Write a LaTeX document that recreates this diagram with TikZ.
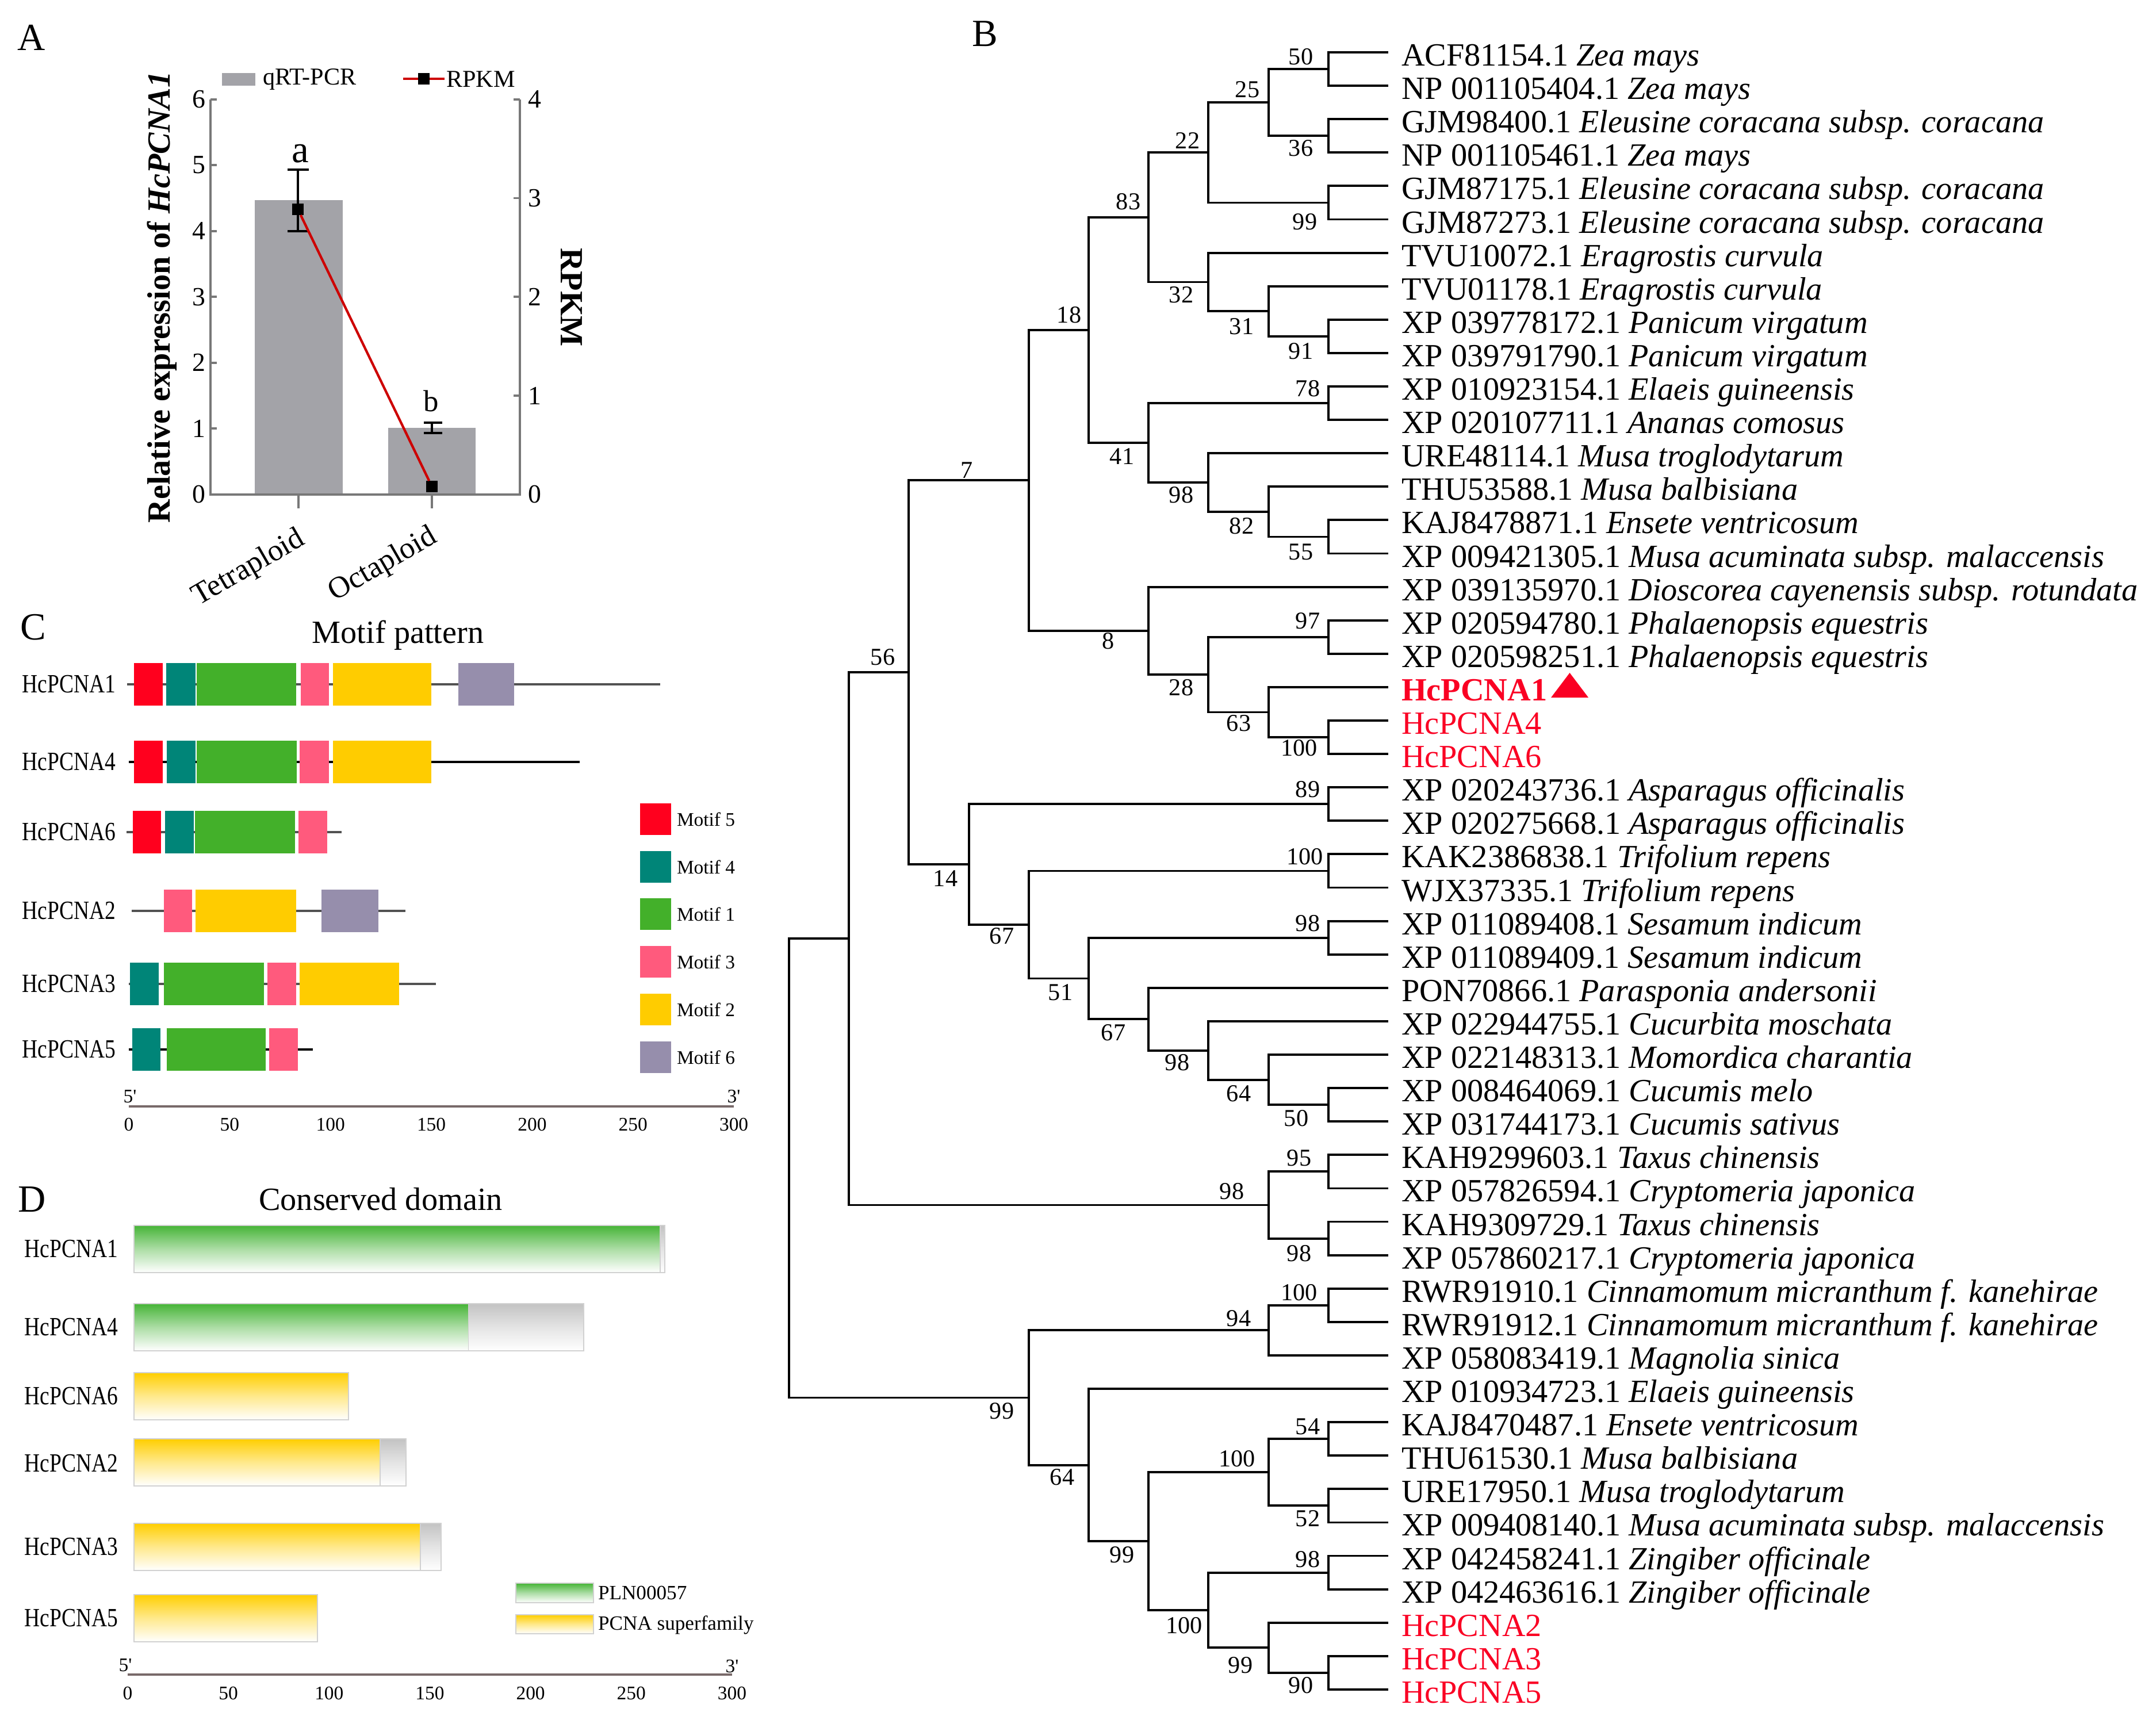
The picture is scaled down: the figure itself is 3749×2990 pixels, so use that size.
\documentclass[tikz,border=0pt]{standalone}
\usepackage{fontspec}
\setmainfont{Liberation Serif}
\newfontfamily\condfont[FakeStretch=0.82]{Liberation Serif}
\usetikzlibrary{calc}
\definecolor{hcred}{RGB}{250,0,35}
\definecolor{bargray}{RGB}{163,163,168}
\definecolor{axgray}{RGB}{120,120,120}
\definecolor{rline}{RGB}{205,0,0}
\definecolor{mred}{RGB}{255,0,30}
\definecolor{mteal}{RGB}{0,133,120}
\definecolor{mgreen}{RGB}{67,176,42}
\definecolor{mpink}{RGB}{255,90,125}
\definecolor{myellow}{RGB}{255,204,0}
\definecolor{mpurple}{RGB}{150,142,172}
\definecolor{dgreen}{RGB}{70,180,55}
\definecolor{dyellow}{RGB}{255,206,0}
\definecolor{dgray}{RGB}{195,195,195}
\definecolor{scaleax}{RGB}{120,105,105}
\def\mtf#1#2#3#4{\fill[#4] (#2,#1-37) rectangle (#3,#1+37);}
\def\dbar#1#2#3#4{\shade[top color=#4, bottom color=white, middle color=#4!45] (#2,#1) rectangle (#3,#1+82);}
\begin{document}
\begin{tikzpicture}[x=0.01cm,y=-0.01cm,
  every node/.style={inner sep=0pt,outer sep=0pt},
  plbl/.style={font=\fontsize{19}{22}\selectfont,anchor=base},
  ttl/.style={font=\fontsize{16}{19}\selectfont,anchor=base},
  leaf/.style={font=\fontsize{16}{19}\selectfont,anchor=base west},
  bs/.style={font=\fontsize{12}{14}\selectfont},
  br/.style={line width=1.1pt},
  ax/.style={draw=axgray,line width=1.1pt},
  tk/.style={font=\fontsize{13}{15}\selectfont},
  lg/.style={font=\fontsize{12}{14}\selectfont,anchor=west},
  sq/.style={fill=black,minimum size=0.2cm},
  err/.style={line width=1.1pt},
  rowlbl/.style={font=\condfont\fontsize{13}{15}\selectfont,anchor=east},
  sclbl/.style={font=\fontsize{9.5}{11}\selectfont},
  mline/.style={draw=black!68,line width=1.3pt},
  dbord/.style={draw=black!18,line width=0.5pt},
  mleg/.style={font=\fontsize{9.5}{11}\selectfont,anchor=west},
  dleg/.style={font=\fontsize{10}{12}\selectfont,anchor=west},
]
\useasboundingbox (0,0) rectangle (3749,2990);

% ================= Panel A =================
\node[plbl] (pA) at (55,87) {A};
\fill[bargray] (443,348) rectangle (596,859.7);
\fill[bargray] (675,743.5) rectangle (827,859.7);
\draw[ax] (366,172.7) -- (366,859.7) -- (904,859.7) -- (904,172.7);
\foreach \k in {0,...,6} {
  \draw[ax] (366,{859.7-114.5*\k}) -- ++(11,0);
  \node[tk,anchor=east] (yl\k) at (357,{859.7-114.5*\k}) {\k};
}
\foreach \k in {0,...,4} {
  \draw[ax] (904,{859.7-171.75*\k}) -- ++(-11,0);
  \node[tk,anchor=west] (yr\k) at (918,{859.7-171.75*\k}) {\k};
}
\draw[ax] (519,859.7) -- ++(0,24);
\draw[ax] (751,859.7) -- ++(0,24);
\node[font=\fontsize{15}{18}\selectfont,rotate=30,anchor=north east] (xt) at (514,914) {Tetraploid};
\node[font=\fontsize{15}{18}\selectfont,rotate=30,anchor=north east] (xo) at (744,910) {Octaploid};
\node[font=\bfseries\fontsize{16}{19}\selectfont,rotate=90] (ytl) at (282,517) {Relative expression of \textit{HcPCNA1}};
\node[font=\bfseries\fontsize{16}{19}\selectfont,rotate=-90] (ytr) at (994,517) {RPKM};
% error bars
\draw[err] (518,295) -- (518,402);
\draw[err] (500,295) -- (537,295);
\draw[err] (500,402) -- (537,402);
\draw[err] (751,735) -- (751,753);
\draw[err] (737,735) -- (769,735);
\draw[err] (737,753) -- (769,753);
% RPKM
\node[sq] (s1) at (518,364) {};
\node[sq] (s2) at (751,846) {};
\draw[rline,line width=1.2pt] (s1) -- (s2);
% letters
\node[font=\fontsize{19}{22}\selectfont] (la) at (522,267) {a};
\node[font=\fontsize{15}{18}\selectfont] (lb) at (750,697) {b};
% legend
\node[fill=bargray,minimum width=0.58cm,minimum height=0.22cm] (lgbox) at (415,138) {};
\node[lg] (lgq) at (457,138) {qRT-PCR};
\coordinate (lgl1) at (701,137);
\coordinate (lgl2) at (773,137);
\draw[rline,line width=1.2pt] (lgl1) -- (lgl2);
\node[sq] (lgs) at (737,137) {};
\node[lg] (lgr) at (776,138) {RPKM};

% ================= Panel C =================
\node[plbl] (pC) at (58,1112) {C};
\node[ttl] (tC) at (692,1118) {Motif pattern};
% row 1
\draw[mline] (221,1190) -- (1148,1190);
\mtf{1190}{233}{283}{mred}\mtf{1190}{289}{340}{mteal}\mtf{1190}{342}{515}{mgreen}
\mtf{1190}{523}{572}{mpink}\mtf{1190}{579}{750}{myellow}\mtf{1190}{797}{894}{mpurple}
% row 2
\draw[mline,draw=black] (224,1325) -- (1008,1325);
\mtf{1325}{233}{283}{mred}\mtf{1325}{290}{340}{mteal}\mtf{1325}{342}{516}{mgreen}
\mtf{1325}{521}{572}{mpink}\mtf{1325}{579}{750}{myellow}
% row 3
\draw[mline] (220,1447) -- (594,1447);
\mtf{1447}{231}{280}{mred}\mtf{1447}{287}{337}{mteal}\mtf{1447}{339}{513}{mgreen}
\mtf{1447}{519}{569}{mpink}
% row 4
\draw[mline] (229,1584) -- (705,1584);
\mtf{1584}{285}{334}{mpink}\mtf{1584}{340}{515}{myellow}\mtf{1584}{559}{658}{mpurple}
% row 5
\draw[mline] (224,1711) -- (758,1711);
\mtf{1711}{226}{276}{mteal}\mtf{1711}{285}{459}{mgreen}\mtf{1711}{465}{515}{mpink}
\mtf{1711}{521}{694}{myellow}
% row 6
\draw[mline,draw=black] (224,1825) -- (544,1825);
\mtf{1825}{230}{279}{mteal}\mtf{1825}{290}{462}{mgreen}\mtf{1825}{468}{518}{mpink}
\foreach \y/\n in {1190/1,1325/4,1447/6,1584/2,1711/3,1825/5}
  \node[rowlbl] (cr\n) at (201,\y) {HcPCNA\n};
% legend
\foreach \t/\n/\c in {1397/5/mred,1480/4/mteal,1562/1/mgreen,1645/3/mpink,1728/2/myellow,1811/6/mpurple} {
  \fill[\c] (1113,\t) rectangle (1167,\t+55);
  \node[mleg] (cm\n) at (1177,\t+27.5) {Motif \n};
}
% scale
\coordinate (cs0) at (224,1924);
\coordinate (cs1) at (1276,1924);
\draw[scaleax,line width=1.3pt] (cs0) -- (cs1);
\foreach \v in {0,50,...,300}
  \node[sclbl] (cv\v) at ({224+3.507*\v},1956) {\v};
\node[sclbl] (c5p) at (226,1907) {5\textquotesingle};
\node[sclbl] (c3p) at (1276,1907) {3\textquotesingle};

% ================= Panel D =================
\node[plbl] (pD) at (56,2107) {D};
\node[ttl] (tD) at (662,2104) {Conserved domain};
\dbar{2131}{233}{1148}{dgreen}\dbar{2131}{1148}{1156}{dgray}
\dbar{2267}{233}{814.5}{dgreen}\dbar{2267}{814.5}{1015}{dgray}
\dbar{2387}{233}{606}{dyellow}
\dbar{2502}{233}{660.7}{dyellow}\dbar{2502}{660.7}{706}{dgray}
\dbar{2649}{233}{730.8}{dyellow}\dbar{2649}{730.8}{766.7}{dgray}
\dbar{2773}{233}{552}{dyellow}
\draw[dbord] (233,2131) rectangle (1156,2213); \draw[dbord] (1148,2131) -- (1148,2213);
\draw[dbord] (233,2267) rectangle (1015,2349); \draw[dbord] (814.5,2267) -- (814.5,2349);
\draw[dbord] (233,2387) rectangle (606,2469);
\draw[dbord] (233,2502) rectangle (706,2584); \draw[dbord] (660.7,2502) -- (660.7,2584);
\draw[dbord] (233,2649) rectangle (766.7,2731); \draw[dbord] (730.8,2649) -- (730.8,2731);
\draw[dbord] (233,2773) rectangle (552,2855);
\foreach \y/\n in {2172/1,2308/4,2428/6,2545/2,2690/3,2814/5}
  \node[rowlbl] (dr\n) at (205,\y) {HcPCNA\n};
% legend
\shade[top color=dgreen,bottom color=white,middle color=dgreen!45] (897,2753) rectangle (1032,2787);
\draw[dbord] (897,2753) rectangle (1032,2787);
\node[dleg] (dl1) at (1040,2770) {PLN00057};
\shade[top color=dyellow,bottom color=white,middle color=dyellow!45] (897,2808) rectangle (1032,2841);
\draw[dbord] (897,2808) rectangle (1032,2841);
\node[dleg] (dl2) at (1040,2826) {PCNA superfamily};
% scale
\coordinate (ds0) at (222,2912);
\coordinate (ds1) at (1273,2912);
\draw[scaleax,line width=1.3pt] (ds0) -- (ds1);
\foreach \v in {0,50,...,300}
  \node[sclbl] (dv\v) at ({222+3.503*\v},2945) {\v};
\node[sclbl] (d5p) at (218,2896) {5\textquotesingle};
\node[sclbl] (d3p) at (1273,2898) {3\textquotesingle};

% ================= Panel B (tree) =================
\node[plbl] (pB) at (1713,80) {B};
\foreach \i in {1,...,50} \coordinate (L\i) at (2414,{91+(\i-1)*58.1});
\coordinate (a50) at (2309.8,120.05);
\coordinate (a36) at (2309.8,236.25);
\coordinate (a25) at (2205.6,178.15);
\coordinate (a99) at (2309.8,352.45);
\coordinate (a22) at (2101.4,265.3);
\coordinate (a91) at (2309.8,584.85);
\coordinate (a31) at (2205.6,541.3);
\coordinate (a32) at (2101.4,490.45);
\coordinate (a83) at (1997.2,377.9);
\coordinate (a78) at (2309.8,701.05);
\coordinate (a55) at (2309.8,933.45);
\coordinate (a82) at (2205.6,889.9);
\coordinate (a98) at (2101.4,839.05);
\coordinate (a41) at (1997.2,770.05);
\coordinate (a18) at (1893,573.98);
\coordinate (a97) at (2309.8,1107.75);
\coordinate (aH) at (2309.8,1282.05);
\coordinate (a63) at (2205.6,1238.48);
\coordinate (a28) at (2101.4,1173.1);
\coordinate (a8) at (1997.2,1096.85);
\coordinate (a7) at (1788.8,835.4);
\coordinate (a89) at (2309.8,1398.25);
\coordinate (aT) at (2309.8,1514.45);
\coordinate (a98b) at (2309.8,1630.65);
\coordinate (a50b) at (2309.8,1921.15);
\coordinate (a64) at (2205.6,1877.58);
\coordinate (a98c) at (2101.4,1826.74);
\coordinate (a67) at (1997.2,1772.27);
\coordinate (a51) at (1893,1701.46);
\coordinate (a67b) at (1788.8,1607.96);
\coordinate (a14) at (1684.6,1503.1);
\coordinate (a56) at (1580.4,1169.25);
\coordinate (a95) at (2309.8,2037.35);
\coordinate (a98d) at (2309.8,2153.55);
\coordinate (a98e) at (2205.6,2095.45);
\coordinate (aA) at (1476.2,1632.35);
\coordinate (a100c) at (2309.8,2269.75);
\coordinate (a94) at (2205.6,2313.33);
\coordinate (a54) at (2309.8,2502.15);
\coordinate (a52) at (2309.8,2618.35);
\coordinate (a100d) at (2205.6,2560.25);
\coordinate (a98f) at (2309.8,2734.55);
\coordinate (a90) at (2309.8,2908.85);
\coordinate (a99c) at (2205.6,2865.28);
\coordinate (a100e) at (2101.4,2799.9);
\coordinate (a99d) at (1997.2,2680.08);
\coordinate (a64b) at (1893,2547.54);
\coordinate (a99e) at (1788.8,2430.44);
\coordinate (root) at (1372,2031.4);
\foreach \p/\c in {a50/L1,a50/L2,a36/L3,a36/L4,a25/a50,a25/a36,a99/L5,a99/L6,a22/a25,a22/a99,
  a91/L9,a91/L10,a31/L8,a31/a91,a32/L7,a32/a31,a83/a22,a83/a32,a78/L11,a78/L12,a55/L15,a55/L16,
  a82/L14,a82/a55,a98/L13,a98/a82,a41/a78,a41/a98,a18/a83,a18/a41,a97/L18,a97/L19,aH/L21,aH/L22,
  a63/L20,a63/aH,a28/a97,a28/a63,a8/L17,a8/a28,a7/a18,a7/a8,a89/L23,a89/L24,aT/L25,aT/L26,
  a98b/L27,a98b/L28,a50b/L32,a50b/L33,a64/L31,a64/a50b,a98c/L30,a98c/a64,a67/L29,a67/a98c,
  a51/a98b,a51/a67,a67b/aT,a67b/a51,a14/a89,a14/a67b,a56/a7,a56/a14,a95/L34,a95/L35,
  a98d/L36,a98d/L37,a98e/a95,a98e/a98d,aA/a56,aA/a98e,a100c/L38,a100c/L39,a94/a100c,a94/L40,
  a54/L42,a54/L43,a52/L44,a52/L45,a100d/a54,a100d/a52,a98f/L46,a98f/L47,a90/L49,a90/L50,
  a99c/L48,a99c/a90,a100e/a98f,a100e/a99c,a99d/a100d,a99d/a100e,a64b/L41,a64b/a99d,
  a99e/a94,a99e/a64b,root/aA,root/a99e}
  \draw[br] (\p) |- (\c);
\foreach \i/\t in {1/{ACF81154.1 \textit{Zea mays}},
  2/{NP 001105404.1 \textit{Zea mays}},
  3/{GJM98400.1 \textit{Eleusine coracana subsp. coracana}},
  4/{NP 001105461.1 \textit{Zea mays}},
  5/{GJM87175.1 \textit{Eleusine coracana subsp. coracana}},
  6/{GJM87273.1 \textit{Eleusine coracana subsp. coracana}},
  7/{TVU10072.1 \textit{Eragrostis curvula}},
  8/{TVU01178.1 \textit{Eragrostis curvula}},
  9/{XP 039778172.1 \textit{Panicum virgatum}},
  10/{XP 039791790.1 \textit{Panicum virgatum}},
  11/{XP 010923154.1 \textit{Elaeis guineensis}},
  12/{XP 020107711.1 \textit{Ananas comosus}},
  13/{URE48114.1 \textit{Musa troglodytarum}},
  14/{THU53588.1 \textit{Musa balbisiana}},
  15/{KAJ8478871.1 \textit{Ensete ventricosum}},
  16/{XP 009421305.1 \textit{Musa acuminata subsp. malaccensis}},
  17/{XP 039135970.1 \textit{Dioscorea cayenensis subsp. rotundata}},
  18/{XP 020594780.1 \textit{Phalaenopsis equestris}},
  19/{XP 020598251.1 \textit{Phalaenopsis equestris}},
  23/{XP 020243736.1 \textit{Asparagus officinalis}},
  24/{XP 020275668.1 \textit{Asparagus officinalis}},
  25/{KAK2386838.1 \textit{Trifolium repens}},
  26/{WJX37335.1 \textit{Trifolium repens}},
  27/{XP 011089408.1 \textit{Sesamum indicum}},
  28/{XP 011089409.1 \textit{Sesamum indicum}},
  29/{PON70866.1 \textit{Parasponia andersonii}},
  30/{XP 022944755.1 \textit{Cucurbita moschata}},
  31/{XP 022148313.1 \textit{Momordica charantia}},
  32/{XP 008464069.1 \textit{Cucumis melo}},
  33/{XP 031744173.1 \textit{Cucumis sativus}},
  34/{KAH9299603.1 \textit{Taxus chinensis}},
  35/{XP 057826594.1 \textit{Cryptomeria japonica}},
  36/{KAH9309729.1 \textit{Taxus chinensis}},
  37/{XP 057860217.1 \textit{Cryptomeria japonica}},
  38/{RWR91910.1 \textit{Cinnamomum micranthum f. kanehirae}},
  39/{RWR91912.1 \textit{Cinnamomum micranthum f. kanehirae}},
  40/{XP 058083419.1 \textit{Magnolia sinica}},
  41/{XP 010934723.1 \textit{Elaeis guineensis}},
  42/{KAJ8470487.1 \textit{Ensete ventricosum}},
  43/{THU61530.1 \textit{Musa balbisiana}},
  44/{URE17950.1 \textit{Musa troglodytarum}},
  45/{XP 009408140.1 \textit{Musa acuminata subsp. malaccensis}},
  46/{XP 042458241.1 \textit{Zingiber officinale}},
  47/{XP 042463616.1 \textit{Zingiber officinale}}}
  \node[leaf] (t\i) at ($(L\i)+(23,23.5)$) {\t};
\node[leaf,text=hcred,font=\bfseries\fontsize{16}{19}\selectfont] (t20) at ($(L20)+(23,23.5)$) {HcPCNA1};
\foreach \i/\n in {21/4,22/6,48/2,49/3,50/5}
  \node[leaf,text=hcred] (t\i) at ($(L\i)+(23,23.5)$) {HcPCNA\n};
\fill[hcred] (2697,1213) -- (2762,1213) -- (2729.5,1170) -- cycle;
\foreach \n/\x/\y/\t in {1/2262/99/50,2/2169/156/25,3/2262/258/36,4/2065/245/22,5/2269/386/99,
  6/1962/351/83,7/2054/513/32,8/2159/568/31,9/2262/611/91,10/1859/548/18,11/2274/676/78,
  12/1951/794/41,13/2054/861/98,14/2159/915/82,15/2262/960/55,16/1681/818/7,17/1927/1115/8,
  18/2274/1080/97,19/2054/1196/28,20/2154/1258/63,21/2259/1301/100,22/1535/1143/56,
  23/2274/1373/89,24/2269/1490/100,25/1644/1528/14,26/1742/1628/67,27/2274/1606/98,
  28/1844/1726/51,29/1936/1796/67,30/2047/1848/98,31/2154/1902/64,32/2254/1945/50,
  33/2259/2014/95,34/2142/2072/98,35/2259/2180/98,36/2259/2248/100,37/2154/2293/94,
  38/1742/2454/99,39/2274/2481/54,40/2151/2537/100,41/1847/2569/64,42/2274/2641/52,
  43/1951/2704/99,44/2274/2712/98,45/2059/2827/100,46/2157/2896/99,47/2262/2931/90}
  \node[bs] (b\n) at (\x,\y) {\t};
\end{tikzpicture}
\end{document}
